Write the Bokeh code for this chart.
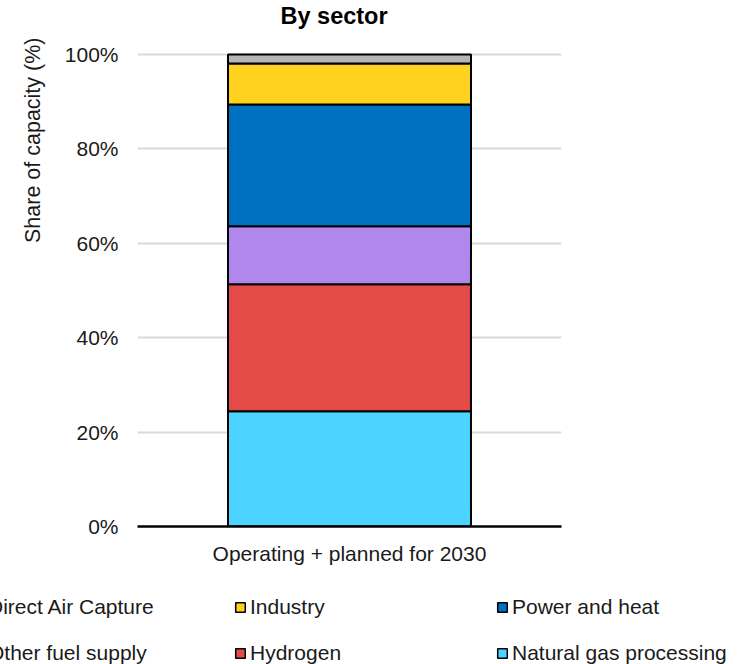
import math
from bokeh.plotting import figure
from bokeh.layouts import column
from bokeh.models import (FactorRange, FixedTicker, PrintfTickFormatter, Legend,
                          LegendItem, Title, ColumnDataSource, Range1d)
from bokeh.embed import file_html
from bokeh.resources import INLINE

categories = ["Operating + planned for 2030"]
sectors = ["Natural gas processing", "Hydrogen", "Other fuel supply",
           "Power and heat", "Industry", "Direct Air Capture"]
natural_gas = [24.4]
hydrogen = [26.9]
other_fuel = [12.3]
power_heat = [25.8]
industry = [8.7]
dac = [1.9]
colors = ["#4ad4ff", "#e44b48", "#b187ee", "#0070c0", "#ffd21f", "#b5b5b5"]
y_ticks = [0, 20, 40, 60, 80, 100]
legend_order = ["Direct Air Capture", "Industry", "Power and heat",
                "Other fuel supply", "Hydrogen", "Natural gas processing"]

FONT = "Liberation Sans"
FS = "21px"

data = dict(cat=categories)
for name, vals in zip(sectors, [natural_gas, hydrogen, other_fuel, power_heat, industry, dac]):
    data[name] = vals
source = ColumnDataSource(data)

p = figure(width=744, height=580, x_range=FactorRange(factors=categories, range_padding=0),
           y_range=(0, 105.51), output_backend="svg", toolbar_location=None,
           min_border_left=137, min_border_right=183, min_border_top=28, min_border_bottom=54)
p.outline_line_color = None

renderers = p.vbar_stack(sectors, x="cat", width=0.573, source=source, color=colors,
                         line_color="black", line_width=2)

p.xgrid.grid_line_color = None
p.ygrid.ticker = FixedTicker(ticks=y_ticks)
p.ygrid.grid_line_color = "#d9d9d9"
p.ygrid.grid_line_width = 2

p.yaxis.ticker = FixedTicker(ticks=y_ticks)
p.yaxis.formatter = PrintfTickFormatter(format="%d%%")
p.yaxis.axis_line_color = None
p.yaxis.major_tick_line_color = None
p.yaxis.minor_tick_line_color = None
p.yaxis.major_tick_out = 0
p.yaxis.minor_tick_out = 0
p.yaxis.major_label_standoff = 19
p.yaxis.major_label_text_font = FONT
p.yaxis.major_label_text_font_size = FS
p.yaxis.major_label_text_color = "#1a1a1a"

p.xaxis.axis_line_color = "black"
p.xaxis.axis_line_width = 2.5
p.xaxis.major_tick_line_color = None
p.xaxis.minor_tick_line_color = None
p.xaxis.major_tick_out = 0
p.xaxis.minor_tick_out = 0
p.xaxis.major_label_standoff = 15
p.xaxis.major_label_text_font = FONT
p.xaxis.major_label_text_font_size = FS
p.xaxis.major_label_text_color = "#1a1a1a"

# chart title
p.title = Title(text="By sector", align="left", offset=143, text_font=FONT,
                text_font_size="23.5px", text_font_style="bold", text_color="black",
                standoff=0)

# y-axis title, placed toward the top
p.add_layout(Title(text="Share of capacity (%)", align="right", offset=9,
                   text_font=FONT, text_font_size="21.5px", text_font_style="normal",
                   text_color="#1a1a1a", standoff=33), "left")

# legend strip below the chart: its own figure whose frame spans the full width
lf = figure(width=744, height=84, x_range=FactorRange(factors=categories),
            y_range=Range1d(0, 1), output_backend="svg", toolbar_location=None,
            min_border_left=0, min_border_right=0, min_border_top=0, min_border_bottom=0)
lf.xaxis.visible = False
lf.yaxis.visible = False
lf.grid.visible = False
lf.outline_line_color = None
for fig in (p, lf):
    if "frame_align" in fig.properties():
        fig.frame_align = False

legend_renderers = lf.vbar_stack(sectors, x="cat", width=0.573, source=source, color=colors,
                                 line_color="black", line_width=1.5)
for r in legend_renderers:
    r.visible = False
lmap = dict(zip(sectors, legend_renderers))

legend = Legend(items=[LegendItem(label=l, renderers=[lmap[l]]) for l in legend_order],
                orientation="horizontal", ncols=3, location=(-28, -1),
                padding=0, margin=0, spacing=22, glyph_width=12, glyph_height=12,
                label_standoff=4, label_width=224, label_height=22,
                border_line_color=None, background_fill_alpha=0,
                inactive_fill_alpha=0,
                label_text_font=FONT, label_text_font_size=FS,
                label_text_color="#1a1a1a")
lf.add_layout(legend, "center")

layout = column(p, lf, spacing=0)
open("out.html", "w").write(file_html(layout, INLINE))
